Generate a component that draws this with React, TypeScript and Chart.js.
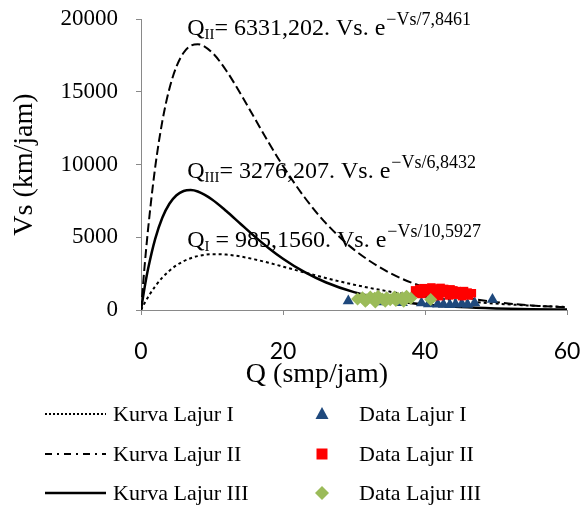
import React, { useEffect, useRef } from "react";
import { Chart, registerables } from "chart.js";

Chart.register(...registerables);

const SERIF = '"Liberation Serif", "Times New Roman", serif';
const SANS = 'Lato, "Liberation Sans", sans-serif';

// Curve sample points (Q axis values) and read-off Vs values
const curveQ = [0, 0.5, 1, 2, 3, 4, 5, 6, 7, 8, 10, 12, 14, 16, 18, 20, 23, 26, 30, 35, 40, 45, 50, 55, 60];
const kurvaLajurI = [0, 470, 896, 1631, 2227, 2701, 3073, 3355, 3561, 3704, 3833, 3808, 3678, 3481, 3242, 2982, 2584, 2200, 1740, 1266, 903, 633, 439, 301, 205];
const kurvaLajurII = [0, 2970, 5574, 9813, 12959, 15211, 16738, 17682, 18160, 18271, 17700, 16461, 14883, 13182, 11493, 9896, 7765, 5988, 4150, 2560, 1547, 920, 541, 314, 181];
const kurvaLajurIII = [0, 1523, 2831, 4892, 6340, 7304, 7889, 8180, 8246, 8142, 7599, 6807, 5930, 5060, 4249, 3525, 2615, 1907, 1226, 689, 379, 206, 110, 58, 31];

// Observed data
const dataLajurI_Q = [29.2, 33.5, 36.8, 39.5, 40.5, 41.8, 42.6, 43.5, 44.3, 45.2, 46.0, 47.0, 49.5];
const dataLajurI_V = [620, 550, 500, 480, 420, 400, 380, 360, 400, 420, 380, 480, 720];
const dataLajurII_Q = [38.6, 39.2, 39.8, 40.3, 40.9, 41.3, 41.8, 42.2, 42.7, 43.1, 43.6, 44.0, 44.5, 45.0, 45.5, 46.0, 46.6, 39.5, 40.6, 41.6, 42.5, 43.4, 44.3, 45.2, 46.2, 41.0, 42.0, 43.0, 44.8, 39.0];
const dataLajurII_V = [1350, 1450, 1500, 1420, 1550, 1480, 1400, 1520, 1450, 1380, 1420, 1350, 1300, 1250, 1300, 1200, 1150, 1100, 1200, 1050, 1150, 1000, 1050, 950, 1000, 900, 950, 1250, 1100, 1150];
const dataLajurIII_Q = [30.5, 31.2, 31.8, 32.3, 32.9, 33.4, 34.0, 34.6, 35.1, 35.7, 36.2, 36.8, 37.4, 38.0, 40.8, 31.6, 33.0, 34.4, 35.9, 37.0];
const dataLajurIII_V = [750, 850, 700, 900, 800, 950, 750, 850, 700, 900, 800, 850, 950, 800, 720, 600, 550, 600, 650, 600];

const xTicks = [0, 20, 40, 60];
const yTicks = [0, 5000, 10000, 15000, 20000];

const xTitle = "Q (smp/jam)";
const yTitle = "Vs (km/jam)";

const annSub = ["II", "III", "I"];
const annRest = ["= 6331,202. Vs. e", "= 3276,207. Vs. e", " = 985,1560. Vs. e"];
const annSup = ["\u2212Vs/7,8461", "\u2212Vs/6,8432", "\u2212Vs/10,5927"];
const annQ = [6.5, 6.5, 6.5];
const annV = [18900, 9070, 4330];

const legendLines = ["Kurva Lajur I", "Kurva Lajur II", "Kurva Lajur III"];
const legendData = ["Data Lajur I", "Data Lajur II", "Data Lajur III"];

const BLUE = "#1F497D";
const RED = "#FF0000";
const GREEN = "#9BBB59";
const AXIS = "#898989";

const pts = (xs: number[], ys: number[]) => xs.map((x, i) => ({ x, y: ys[i] }));

const annotationPlugin = {
  id: "annotations",
  afterDatasetsDraw(chart: any) {
    const ctx = chart.ctx;
    const xs = chart.scales.x;
    const ys = chart.scales.y;
    ctx.save();
    ctx.fillStyle = "#000";
    ctx.textAlign = "left";
    ctx.textBaseline = "alphabetic";
    for (let i = 0; i < annSub.length; i++) {
      let x = xs.getPixelForValue(annQ[i]);
      const y = ys.getPixelForValue(annV[i]);
      ctx.font = `24px ${SERIF}`;
      ctx.fillText("Q", x, y);
      x += ctx.measureText("Q").width;
      ctx.font = `15px ${SERIF}`;
      ctx.fillText(annSub[i], x, y + 4);
      x += ctx.measureText(annSub[i]).width;
      ctx.font = `24px ${SERIF}`;
      ctx.fillText(annRest[i], x, y);
      x += ctx.measureText(annRest[i]).width;
      ctx.font = `18px ${SERIF}`;
      ctx.fillText(annSup[i], x + 1, y - 10);
    }
    // x-axis title (placed left of centre, as in the original)
    const ca = chart.chartArea;
    ctx.font = `28px ${SERIF}`;
    ctx.textAlign = "center";
    ctx.textBaseline = "middle";
    ctx.fillText(xTitle, (ca.left + ca.right) / 2 - 37, ca.bottom + 65);
    ctx.restore();
  },
};

const legendPlugin = {
  id: "customLegend",
  afterDraw(chart: any) {
    const ctx = chart.ctx;
    const rows = [414, 454, 493];
    const dashes = [[2, 2], [7, 5, 2, 5], []];
    ctx.save();
    ctx.font = `22px ${SERIF}`;
    ctx.fillStyle = "#000";
    ctx.textAlign = "left";
    ctx.textBaseline = "middle";
    for (let i = 0; i < 3; i++) {
      const y = rows[i];
      ctx.strokeStyle = "#000";
      ctx.lineWidth = i === 2 ? 2.5 : 2;
      ctx.setLineDash(dashes[i]);
      ctx.beginPath();
      ctx.moveTo(45, y);
      ctx.lineTo(106, y);
      ctx.stroke();
      ctx.setLineDash([]);
      ctx.fillText(legendLines[i], 113, y + 1);
      ctx.fillText(legendData[i], 359, y + 1);
      const cx = 322;
      ctx.beginPath();
      if (i === 0) {
        ctx.fillStyle = BLUE;
        ctx.moveTo(cx, y - 7);
        ctx.lineTo(cx + 6.5, y + 5);
        ctx.lineTo(cx - 6.5, y + 5);
        ctx.closePath();
      } else if (i === 1) {
        ctx.fillStyle = RED;
        ctx.rect(cx - 5.5, y - 5.5, 11, 11);
      } else {
        ctx.fillStyle = GREEN;
        ctx.moveTo(cx, y - 7);
        ctx.lineTo(cx + 7, y);
        ctx.lineTo(cx, y + 7);
        ctx.lineTo(cx - 7, y);
        ctx.closePath();
      }
      ctx.fill();
      ctx.fillStyle = "#000";
    }
    ctx.restore();
  },
};

export default function App() {
  const ref = useRef<HTMLCanvasElement>(null);
  useEffect(() => {
    document.body.style.margin = "0";
    const canvas = ref.current!;
    const curveBase = {
      showLine: true,
      pointRadius: 0,
      borderColor: "#000",
      fill: false,
      cubicInterpolationMode: "monotone" as const,
    };
    const chart = new Chart(canvas, {
      type: "scatter",
      data: {
        datasets: [
          { ...curveBase, label: legendLines[0], data: pts(curveQ, kurvaLajurI), borderWidth: 2, borderDash: [3, 3], order: 5 },
          { ...curveBase, label: legendLines[1], data: pts(curveQ, kurvaLajurII), borderWidth: 2, borderDash: [9, 4], order: 4 },
          { ...curveBase, label: legendLines[2], data: pts(curveQ, kurvaLajurIII), borderWidth: 2.5, order: 6 },
          { label: legendData[0], data: pts(dataLajurI_Q, dataLajurI_V), pointStyle: "triangle", pointRadius: 6.5, backgroundColor: BLUE, borderColor: BLUE, borderWidth: 0, order: 3 },
          { label: legendData[1], data: pts(dataLajurII_Q, dataLajurII_V), pointStyle: "rect", pointRadius: 6, backgroundColor: RED, borderColor: RED, borderWidth: 0, order: 2 },
          { label: legendData[2], data: pts(dataLajurIII_Q, dataLajurIII_V), pointStyle: "rectRot", pointRadius: 6.5, backgroundColor: GREEN, borderColor: GREEN, borderWidth: 0, order: 1 },
        ] as any,
      },
      options: {
        responsive: false,
        animation: false,
        devicePixelRatio: 1,
        events: [],
        layout: { padding: { top: 19, right: 15, bottom: 117, left: 0 } },
        plugins: { legend: { display: false }, tooltip: { enabled: false }, title: { display: false } },
        scales: {
          x: {
            type: "linear",
            min: 0,
            max: 60,
            afterBuildTicks: (s: any) => { s.ticks = xTicks.map((v) => ({ value: v })); },
            afterFit: (s: any) => { s.height = 81; s.paddingLeft = 0; s.paddingRight = 0; },
            ticks: { font: { family: SANS, size: 23 }, color: "#000", padding: 23, maxRotation: 0 },
            grid: { display: true, drawOnChartArea: false, drawTicks: true, tickLength: 5, color: AXIS },
            border: { display: true, color: AXIS, width: 1 },
            title: { display: false },
          },
          y: {
            type: "linear",
            min: 0,
            max: 20000,
            afterBuildTicks: (s: any) => { s.ticks = yTicks.map((v) => ({ value: v })); },
            afterFit: (s: any) => { s.width = 141; s.paddingTop = 0; s.paddingBottom = 0; },
            ticks: { font: { family: SERIF, size: 23 }, color: "#000", padding: 18, callback: (v: any) => String(v) },
            grid: { display: true, drawOnChartArea: false, drawTicks: true, tickLength: 5, color: AXIS },
            border: { display: true, color: AXIS, width: 1 },
            title: { display: true, text: yTitle, font: { family: SERIF, size: 28 }, color: "#000", padding: { top: 8, bottom: 0 } },
          },
        },
      } as any,
      plugins: [annotationPlugin, legendPlugin],
    });
    return () => chart.destroy();
  }, []);
  return (
    <div style={{ width: 582, height: 508 }}>
      <canvas ref={ref} width={582} height={508} style={{ display: "block" }} />
    </div>
  );
}
